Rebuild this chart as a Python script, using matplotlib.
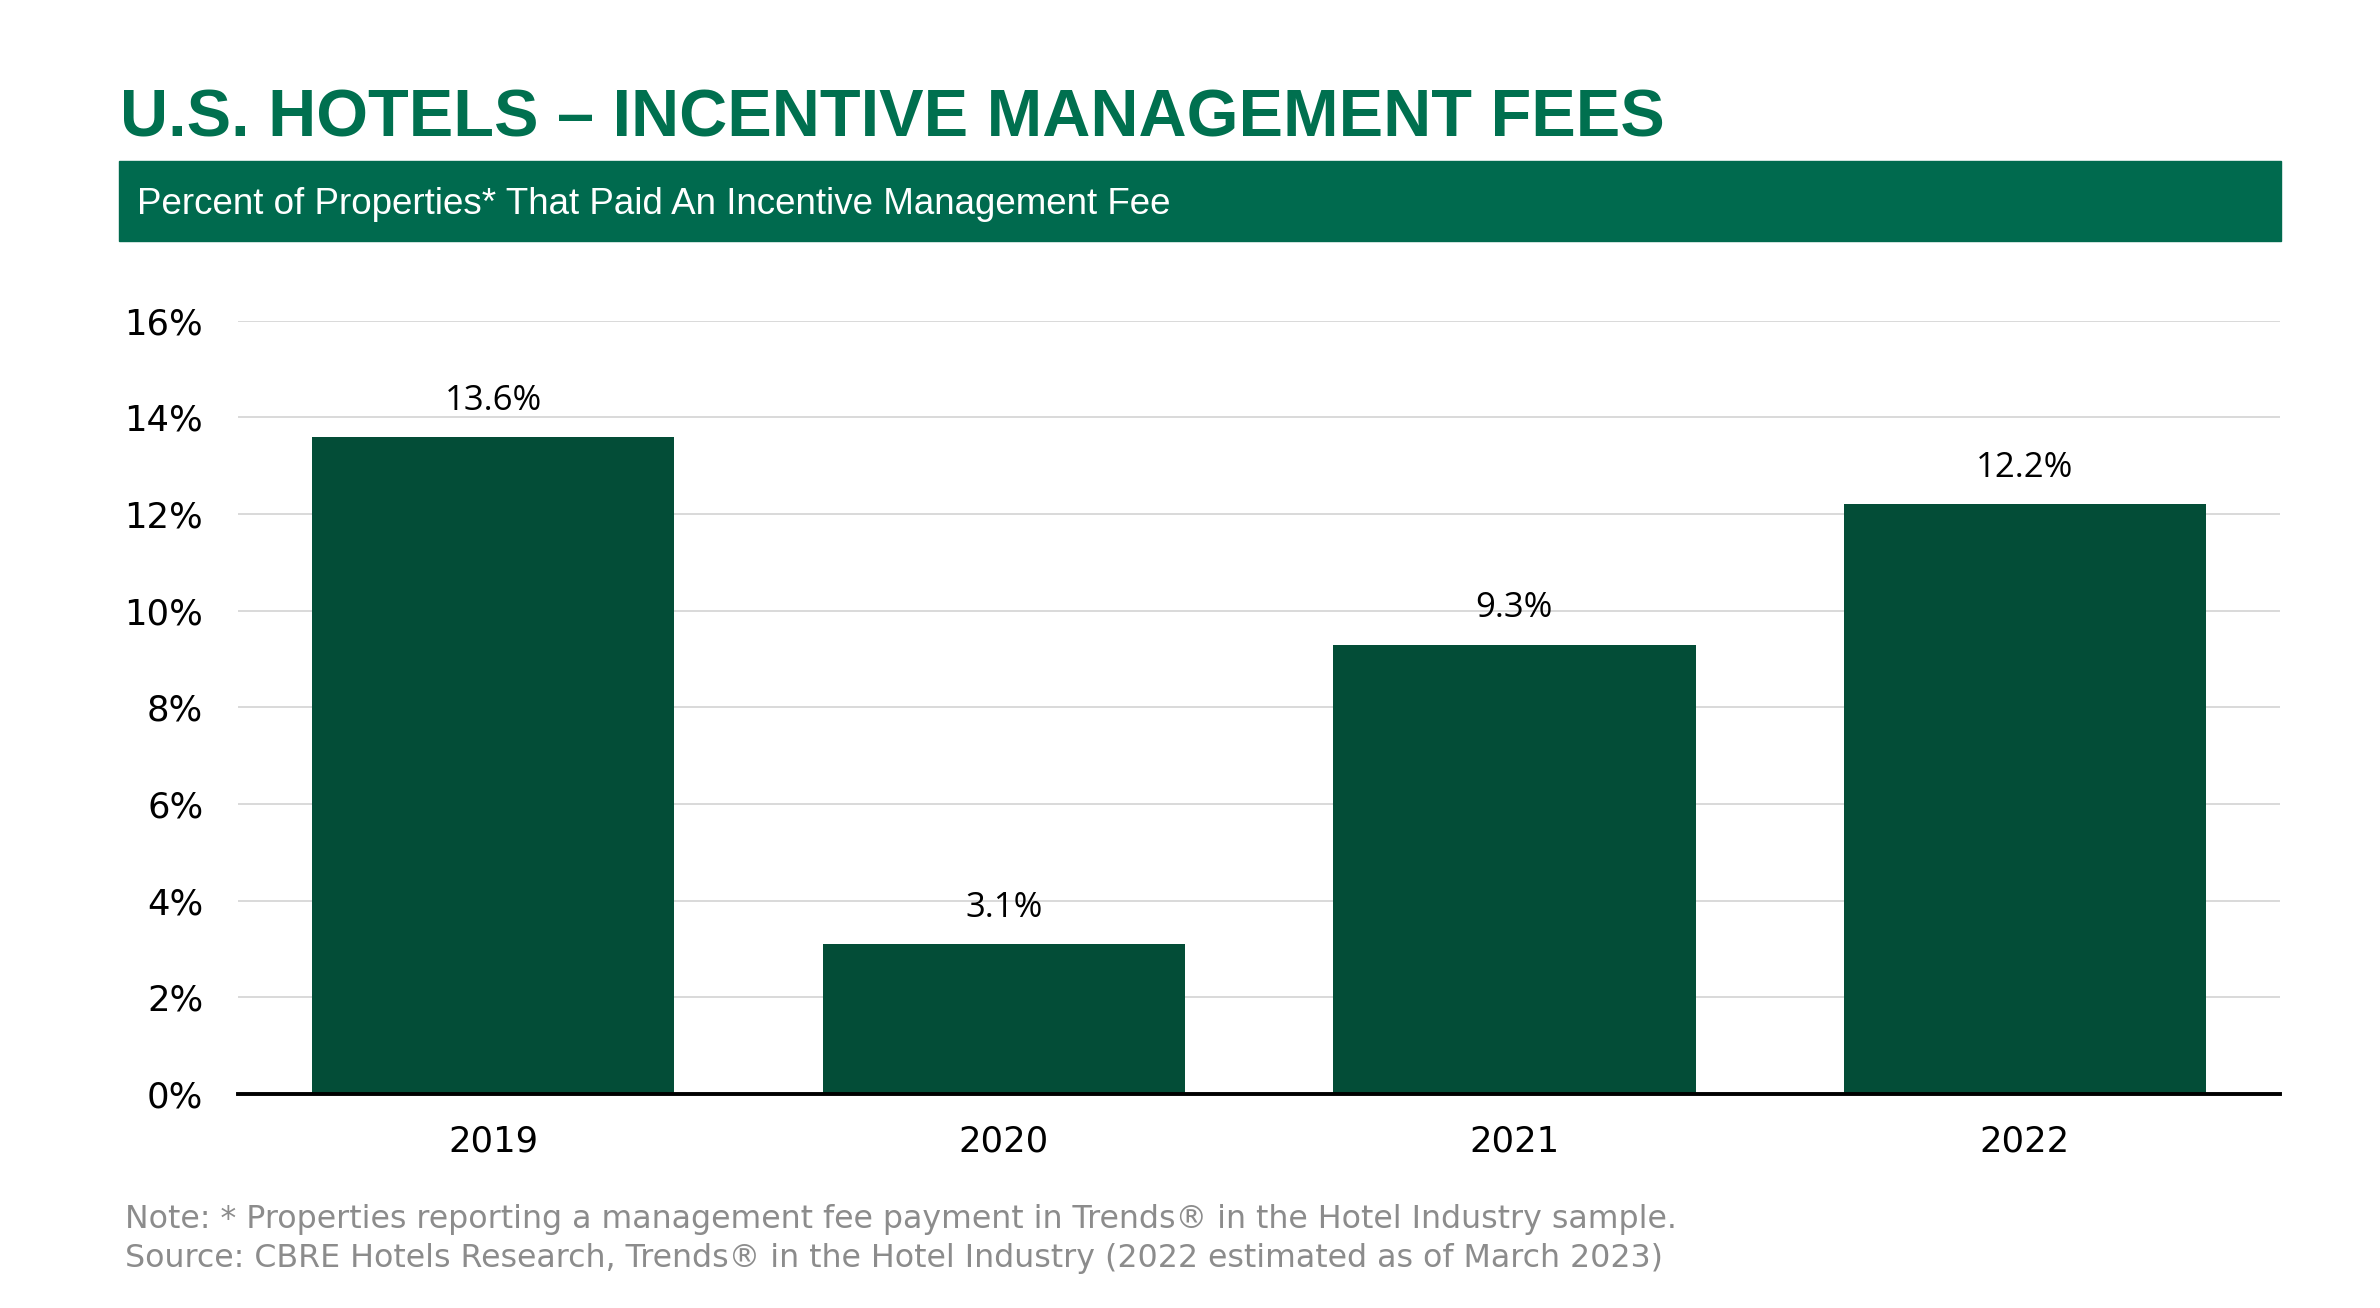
import matplotlib
matplotlib.use("Agg")
import matplotlib.pyplot as plt
from matplotlib.patches import Rectangle

# data
years = ["2019", "2020", "2021", "2022"]
pct_paid = [13.6, 3.1, 9.3, 12.2]
yticks = [0, 2, 4, 6, 8, 10, 12, 14, 16]

title = "U.S. HOTELS \u2013 INCENTIVE MANAGEMENT FEES"
subtitle = "Percent of Properties* That Paid An Incentive Management Fee"
note = "Note: * Properties reporting a management fee payment in Trends\u00ae in the Hotel Industry sample."
source = "Source: CBRE Hotels Research, Trends\u00ae in the Hotel Industry (2022 estimated as of March 2023)"

green_title = "#00704F"
green_band = "#006A4E"
green_bar = "#034D37"

fig = plt.figure(figsize=(23.8, 13.08), dpi=100)

# title + banner
fig.text(0.0505, 0.8955, title, fontsize=48, fontweight="bold", color=green_title,
         family="Liberation Sans", va="baseline")
fig.patches.append(Rectangle((0.0498, 0.816), 0.9086, 0.0609, transform=fig.transFigure,
                             color=green_band, zorder=0))
fig.text(0.0575, 0.8435, subtitle, fontsize=26.5, color="white", family="Liberation Sans", va="center")

ax = fig.add_axes([0.1, 0.1636, 0.858, 0.5912])
x = range(len(years))
bars = ax.bar(x, pct_paid, width=0.71, color=green_bar, zorder=2)
for b, v in zip(bars, pct_paid):
    ax.annotate(f"{v:.1f}%", (b.get_x() + b.get_width() / 2, v), xytext=(0, 26),
                textcoords="offset points", ha="center", va="center",
                fontsize=25, family="Open Sans", color="black")

ax.set_xlim(-0.5, 3.5)
ax.set_ylim(0, 16)
ax.set_yticks(yticks)
ax.set_yticklabels([f"{t}%" for t in yticks])
ax.set_xticks(list(x))
ax.set_xticklabels(years)
ax.tick_params(axis="y", length=0, pad=25, labelsize=25.5)
ax.tick_params(axis="x", length=0, pad=22, labelsize=25.5)
ax.grid(axis="y", color="#D9D9D9", linewidth=1.4, zorder=0)
for s in ["top", "right", "left"]:
    ax.spines[s].set_visible(False)
ax.spines["bottom"].set_linewidth(2.8)
ax.spines["bottom"].set_zorder(3)

fig.text(0.0525, 0.0675, note, fontsize=22.8, color="#8C8C8C", va="center")
fig.text(0.0525, 0.0375, source, fontsize=22.8, color="#8C8C8C", va="center")

fig.savefig("out.png", dpi=100)
